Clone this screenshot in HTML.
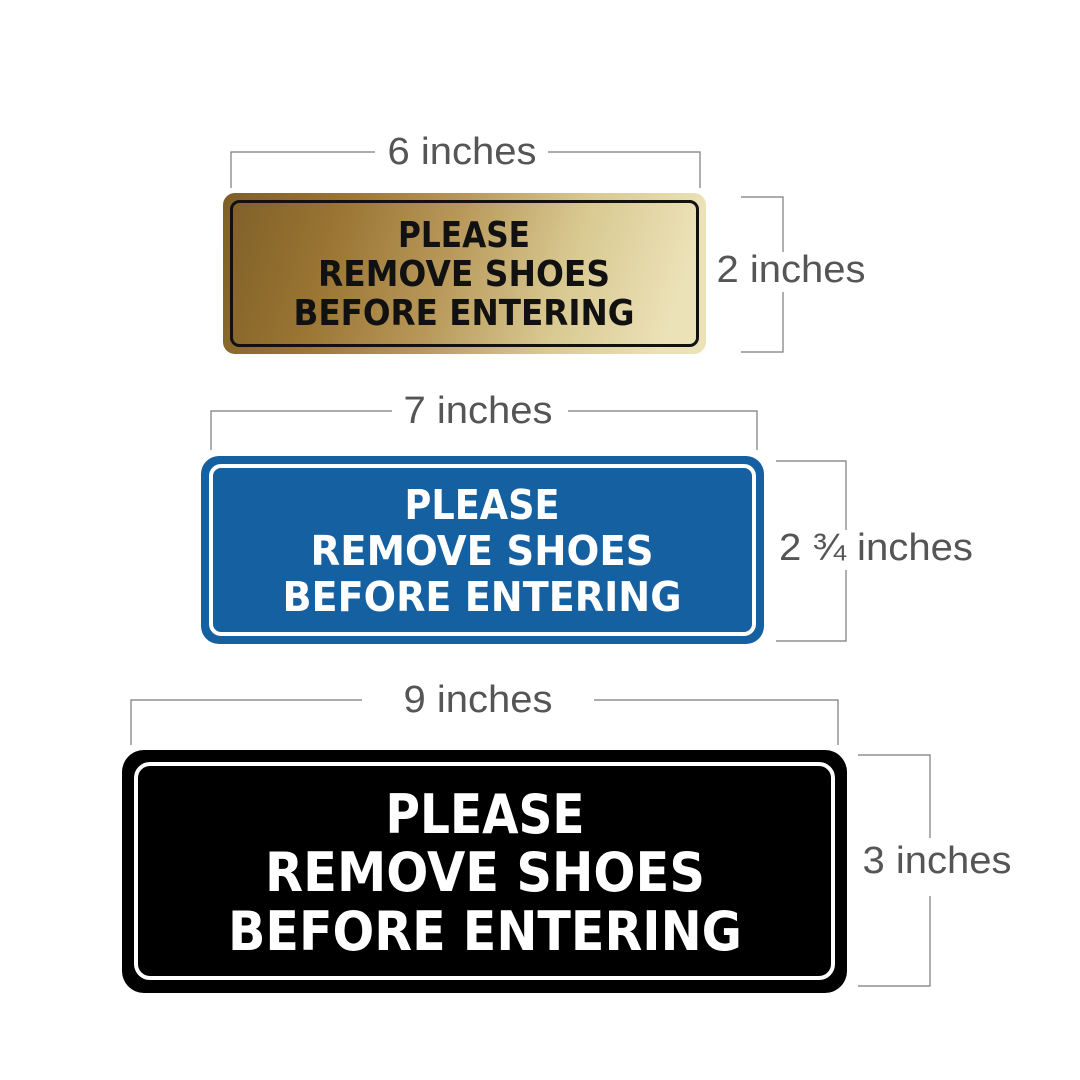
<!DOCTYPE html>
<html><head><meta charset="utf-8"><style>html,body{margin:0;padding:0;background:#fff}svg{display:block}</style></head>
<body>
<svg width="1080" height="1080" viewBox="0 0 1080 1080" xmlns="http://www.w3.org/2000/svg">
<defs>
<linearGradient id="g" x1="0" y1="0" x2="1" y2="0.1">
<stop offset="0" stop-color="#7e5f28"/>
<stop offset="0.25" stop-color="#9a7533"/>
<stop offset="0.5" stop-color="#b8985a"/>
<stop offset="0.75" stop-color="#d8c890"/>
<stop offset="1" stop-color="#ece2b8"/>
</linearGradient>
</defs>
<g stroke="#7a7a7a" stroke-width="1.2" fill="none">
<path d="M231,188 V152 H375 M548,152 H700 V188"/>
<path d="M741,197 H783 V252 M783,292 V352 H741"/>
<path d="M211,450 V411 H392 M568,411 H757 V450"/>
<path d="M776,461 H846 V530 M846,570 V641 H776"/>
<path d="M131,745 V700 H362 M594,700 H838 V745"/>
<path d="M858,755 H930 V838 M930,896 V986 H858"/>
</g>
<g font-family="Liberation Sans, sans-serif" fill="#555" font-size="38">
<text x="462" y="164" text-anchor="middle" textLength="149" lengthAdjust="spacingAndGlyphs">6 inches</text>
<text x="791" y="282" text-anchor="middle" textLength="149" lengthAdjust="spacingAndGlyphs">2 inches</text>
<text x="478" y="423" text-anchor="middle" textLength="149" lengthAdjust="spacingAndGlyphs">7 inches</text>
<text x="876" y="560" text-anchor="middle" textLength="194" lengthAdjust="spacingAndGlyphs">2 ¾ inches</text>
<text x="478" y="712" text-anchor="middle" textLength="149" lengthAdjust="spacingAndGlyphs">9 inches</text>
<text x="937" y="873" text-anchor="middle" textLength="149" lengthAdjust="spacingAndGlyphs">3 inches</text>
</g>
<rect x="223" y="193" width="483" height="161" rx="12" fill="url(#g)"/>
<rect x="231.5" y="201.5" width="466" height="144" rx="8" fill="none" stroke="#111" stroke-width="3"/>
<g font-family="DejaVu Sans, sans-serif" font-weight="bold" fill="#111" font-size="36" text-anchor="middle">
<text x="464" y="247" textLength="132" lengthAdjust="spacingAndGlyphs">PLEASE</text>
<text x="464" y="286" textLength="292" lengthAdjust="spacingAndGlyphs">REMOVE SHOES</text>
<text x="464" y="325" textLength="341" lengthAdjust="spacingAndGlyphs">BEFORE ENTERING</text>
</g>
<rect x="201" y="456" width="563" height="188" rx="18" fill="#1560a0"/>
<rect x="211" y="466" width="543" height="168" rx="10" fill="none" stroke="#fff" stroke-width="4"/>
<g font-family="DejaVu Sans, sans-serif" font-weight="bold" fill="#fff" font-size="41" text-anchor="middle">
<text x="482" y="519" textLength="155" lengthAdjust="spacingAndGlyphs">PLEASE</text>
<text x="482" y="565" textLength="343" lengthAdjust="spacingAndGlyphs">REMOVE SHOES</text>
<text x="482" y="611" textLength="399" lengthAdjust="spacingAndGlyphs">BEFORE ENTERING</text>
</g>
<rect x="122" y="750" width="725" height="243" rx="22" fill="#000"/>
<rect x="136" y="764" width="697" height="214" rx="14" fill="none" stroke="#fff" stroke-width="4"/>
<g font-family="DejaVu Sans, sans-serif" font-weight="bold" fill="#fff" font-size="54" text-anchor="middle">
<text x="485" y="833" textLength="199" lengthAdjust="spacingAndGlyphs">PLEASE</text>
<text x="485" y="891" textLength="440" lengthAdjust="spacingAndGlyphs">REMOVE SHOES</text>
<text x="485" y="950" textLength="514" lengthAdjust="spacingAndGlyphs">BEFORE ENTERING</text>
</g>
</svg>
</body></html>
